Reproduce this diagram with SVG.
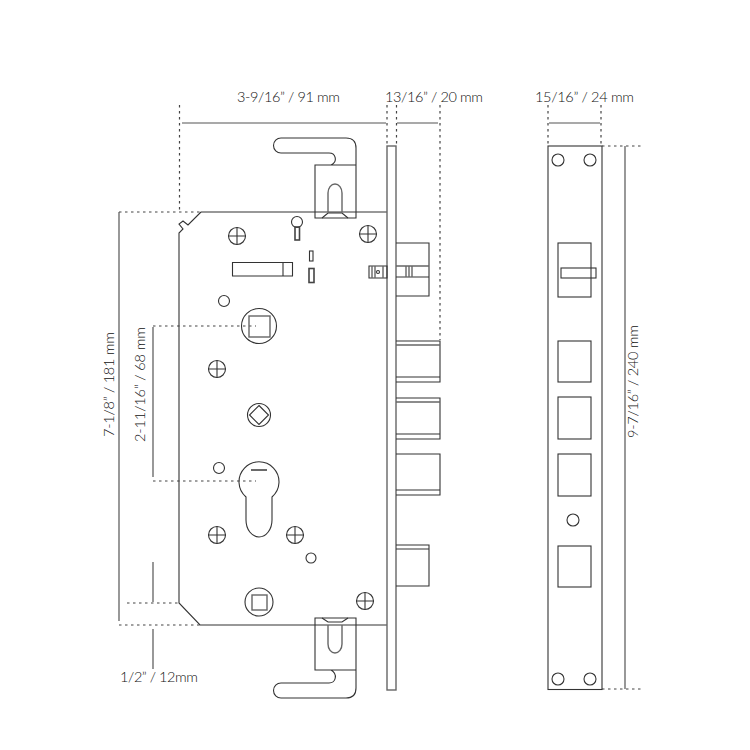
<svg xmlns="http://www.w3.org/2000/svg" width="750" height="750" viewBox="0 0 750 750">
<style>
.l{fill:none;stroke:#333;stroke-width:1.1}
.g{fill:none;stroke:#666;stroke-width:1.4}
.h{fill:none;stroke:#444;stroke-width:1.6}
.d{fill:none;stroke:#444;stroke-width:1.2;stroke-dasharray:2.5 3.5}
.m{fill:none;stroke:#555;stroke-width:1.2}
text{font-family:"Lato","Liberation Sans",sans-serif;font-size:14.5px;font-weight:300;fill:#111}
</style>
<defs>
<g id="screw"><circle r="8.5" class="l"/><path d="M-8.500 0H8.500M0-8.500V8.500" class="l"/></g>
</defs>
<rect width="750" height="750" fill="#fff"/>
<g id="connectors">
<path class="d" d="M179.500 105V212M387 105V145M396.500 105V145M440 105V340M548 105V145M601 105V145M602 146H641M602 689H641M119 212H200M119 625H200M127 603H179M153 326H256M153 481H256"/>
<path class="m" d="M182 123H386M397 123H438M549 123H600M625 146V689M119 212V621M153 327V477M153 562V602M153 629V669"/>
</g>
<g id="case"><path class="l" d="M201 212H387M201 212L188 225L183 221L179 224L183 229L179 233V603L200 625H387"/></g>
<g id="top-handle"><path class="l" d="M315 165H356V218H315ZM356 165V148Q356 138 346 138H281A7.500 7.500 0 0 0 281 153H329C336 153 338 162 331 165"/><path class="g" d="M328 212V193A7 9 0 0 1 342 193V212"/><path class="l" d="M322 218L328 213H342L348 218"/></g>
<g id="bottom-handle"><path class="l" d="M315 670H356V618H315ZM356 670V688Q356 698 346 698H281A7.500 7.500 0 0 1 281 683H329C336 683 338 674 331 670"/><path class="g" d="M328 625V644A7 9 0 0 0 342 644V625"/><path class="l" d="M322 618L328 622H342L348 618"/></g>
<g id="side-plate"><rect x="387" y="146" width="9" height="544" class="g"/></g>
<g id="latch"><path class="l" d="M396 243H429V296H396M396 277H429M369 266H387V278H369Z"/><path class="g" d="M396 266H429M406 266V277M409 266V277M412 266V277M372 266V278M375 266V278M383 266V278"/><circle cx="378" cy="272" r="1.500" class="l"/></g>
<g id="bolt-1"><path class="l" d="M396 341H440V382H396M396 377H440"/><path class="g" d="M396 345H440"/></g>
<g id="bolt-2"><path class="l" d="M396 398H440V439H396M396 434H440"/><path class="g" d="M396 402H440"/></g>
<g id="bolt-3"><path class="l" d="M396 454H440V495H396M396 490H440"/></g>
<g id="bolt-4"><path class="l" d="M396 549H429M396 586H429V545H396"/></g>
<g id="pin"><circle cx="297" cy="222" r="5.500" class="l"/><rect x="295" y="227" width="4.500" height="13" class="h"/></g>
<g id="slots"><rect x="309.500" y="251" width="3.500" height="10" class="l"/><rect x="309" y="268.500" width="5" height="14" class="h"/></g>
<g id="bar"><path class="l" d="M232.500 262.500H292.500V276H232.500ZM283 262.500V276"/></g>
<g id="screw-1"><use href="#screw" x="237" y="236"/></g>
<g id="screw-2"><use href="#screw" x="368" y="234"/></g>
<g id="screw-3"><use href="#screw" x="217" y="369"/></g>
<g id="screw-4"><use href="#screw" x="217" y="535"/></g>
<g id="screw-5"><use href="#screw" x="295" y="535"/></g>
<g id="screw-6"><use href="#screw" x="365" y="601"/></g>
<g id="holes"><circle cx="224" cy="301" r="5.500" class="l"/><circle cx="219" cy="468" r="5.500" class="l"/><circle cx="311" cy="558" r="5" class="l"/></g>
<g id="spindle-top"><circle cx="259" cy="326" r="17.500" class="l"/><rect x="249" y="316" width="21" height="21" class="g"/></g>
<g id="spindle-mid"><circle cx="259" cy="415" r="11.500" class="l"/><path class="l" d="M259 405.500L268.500 415L259 424.500L249.500 415Z"/></g>
<g id="spindle-bottom"><circle cx="259" cy="602" r="14" class="l"/><rect x="252" y="595" width="15" height="15" class="g"/></g>
<g id="cylinder"><path class="l" d="M246 497V520A13 17 0 0 0 272 520V497A20 20 0 1 0 246 497Z"/><path class="h" d="M251 470H267"/></g>
<g id="front-plate"><rect x="548" y="146" width="54" height="543.500" class="l"/><circle cx="558" cy="160" r="6" class="l"/><circle cx="590" cy="160" r="6" class="l"/><circle cx="558" cy="679" r="6" class="l"/><circle cx="590" cy="679" r="6" class="l"/><circle cx="573" cy="520" r="6" class="l"/><rect x="558" y="243" width="33" height="54" class="l"/><rect x="561" y="268" width="35" height="10" class="l"/><rect x="558" y="341" width="33" height="41" class="l"/><rect x="558" y="397" width="33" height="42" class="l"/><rect x="558" y="454" width="33" height="42" class="l"/><rect x="558" y="546" width="33" height="41" class="l"/></g>
<g id="labels">
<text x="237" y="102" textLength="103">3-9/16” / 91 mm</text>
<text x="385" y="102" textLength="98">13/16” / 20 mm</text>
<text x="535" y="102" textLength="99">15/16” / 24 mm</text>
<text x="120" y="682" textLength="78">1/2” / 12mm</text>
<text transform="translate(114 437) rotate(-90)" textLength="105">7-1/8” / 181 mm</text>
<text transform="translate(145 442) rotate(-90)" textLength="115">2-11/16” / 68 mm</text>
<text transform="translate(638 438) rotate(-90)" textLength="113">9-7/16” / 240 mm</text>
</g>
</svg>
